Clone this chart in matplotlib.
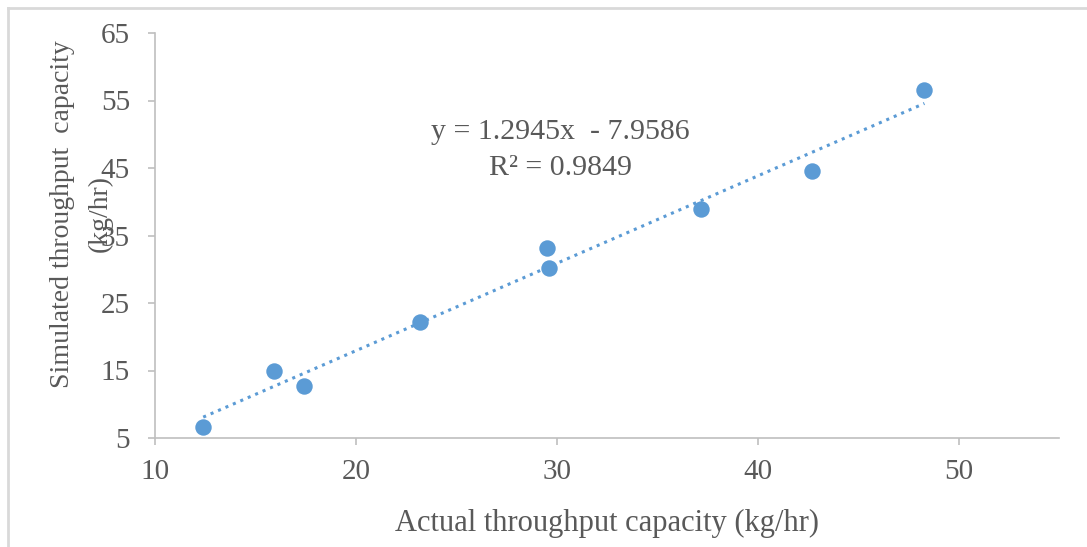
import numpy as np
import matplotlib.pyplot as plt
from matplotlib.lines import Line2D

# Measured vs simulated throughput capacity (kg/hr)
actual = [12.4, 15.9, 17.4, 23.2, 29.5, 29.6, 37.2, 42.7, 48.3]
simulated = [6.6, 14.9, 12.7, 22.2, 33.1, 30.2, 38.9, 44.6, 56.6]

# Linear trendline reported on the chart
slope = 1.2945
intercept = -7.9586
r_squared = 0.9849

x_ticks = [10, 20, 30, 40, 50]
y_ticks = [5, 15, 25, 35, 45, 55, 65]

blue = "#5b9bd5"
text_grey = "#595959"
axis_grey = "#bfbfbf"

plt.rcParams["font.family"] = ["Liberation Serif", "DejaVu Serif"]

fig = plt.figure(figsize=(10.87, 5.47), dpi=100)
ax = fig.add_axes([155 / 1087, 1 - 438 / 547, (1059 - 155) / 1087, (438 - 33) / 547])

ax.scatter(actual, simulated, s=140, color=blue, zorder=3, linewidths=0)

xs = np.array([min(actual), max(actual)])
ax.plot(xs, slope * xs + intercept, linestyle=":", color=blue, linewidth=2.2, zorder=2)

ax.set_xlim(10, 55)
ax.set_ylim(5, 65)
ax.set_xticks(x_ticks)
ax.set_yticks(y_ticks)

for side in ["top", "right"]:
    ax.spines[side].set_visible(False)
for side in ["left", "bottom"]:
    ax.spines[side].set_color(axis_grey)
    ax.spines[side].set_linewidth(1.2)

ax.tick_params(axis="both", colors=axis_grey, labelcolor=text_grey, labelsize=21, length=5, width=1.2)
ax.tick_params(axis="y", pad=13)
ax.tick_params(axis="x", pad=10)

ax.set_xlabel("Actual throughput capacity (kg/hr)", fontsize=22, color=text_grey, labelpad=17)

# y label drawn as two lines, the unit line sits over the tick labels
fig.text(63 / 1087, 1 - 214 / 547, "Simulated throughput  capacity",
         rotation=90, ha="center", va="center", fontsize=20, color=text_grey)
fig.text(100 / 1087, 1 - 214 / 547, "(kg/hr)",
         rotation=90, ha="center", va="center", fontsize=20, color=text_grey)

eq = f"y = {slope}x  - {abs(intercept)}\nR² = {r_squared}"
ax.text(30.2, 47.6, eq, ha="center", va="center",
        multialignment="center", fontsize=21.5, color=text_grey, linespacing=1.5)

# thin frame on the left and top edges
fig.add_artist(Line2D([8 / 1087, 8 / 1087], [0, 1 - 8 / 547], transform=fig.transFigure,
                      color="#d9d9d9", linewidth=2))
fig.add_artist(Line2D([8 / 1087, 1], [1 - 8 / 547, 1 - 8 / 547], transform=fig.transFigure,
                      color="#d9d9d9", linewidth=2))

fig.savefig("out.png", dpi=100)
